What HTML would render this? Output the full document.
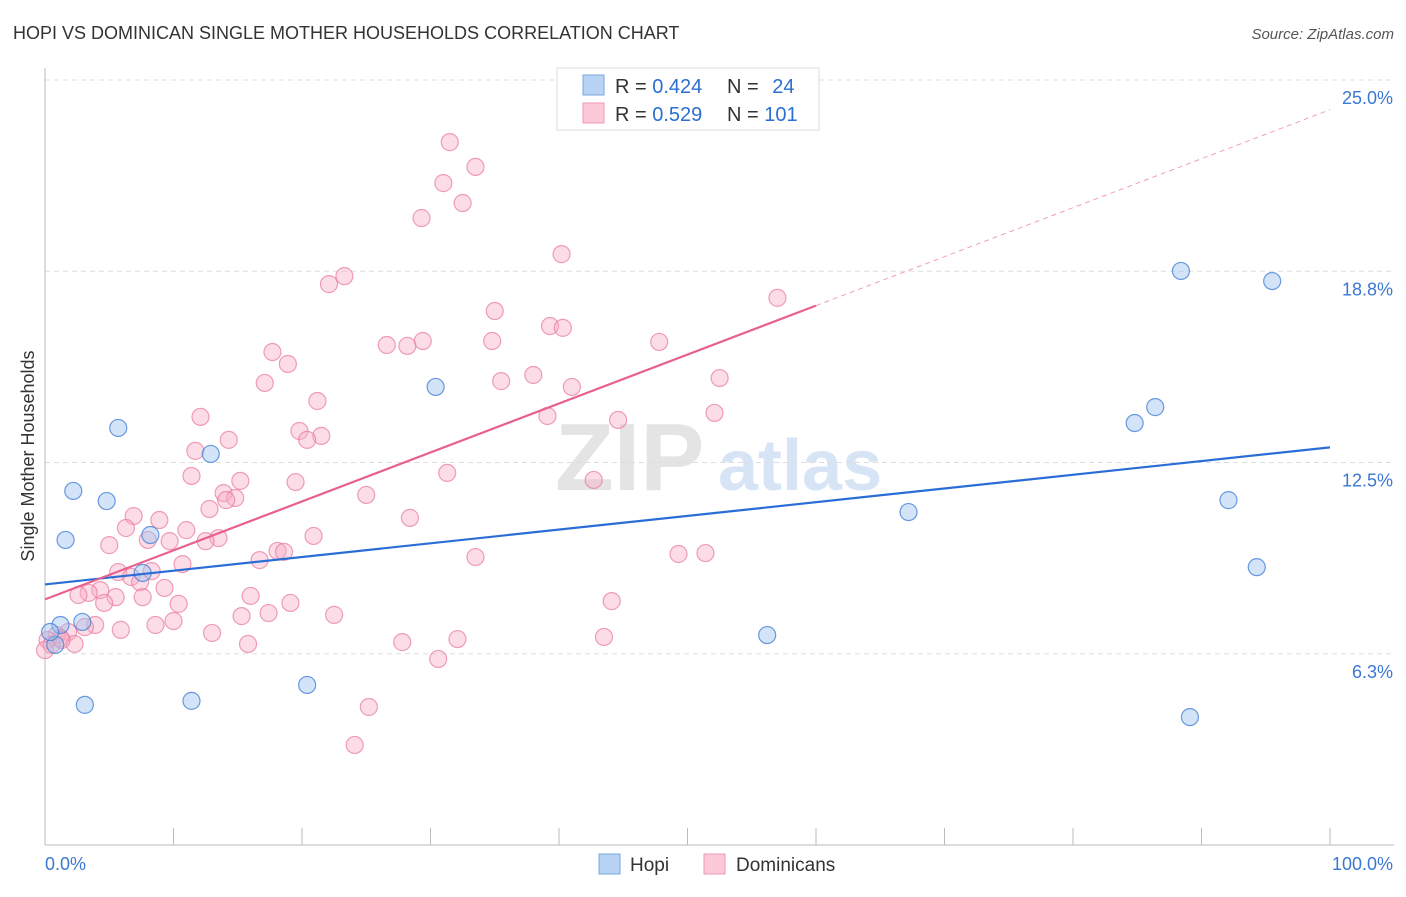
<!DOCTYPE html>
<html><head><meta charset="utf-8"><style>
body{margin:0;background:#fff;font-family:"Liberation Sans",sans-serif;}
svg text{font-family:"Liberation Sans",sans-serif;}
</style></head><body>
<svg id="chart" width="1406" height="892" viewBox="0 0 1406 892" xmlns="http://www.w3.org/2000/svg">
<text x="13" y="39" font-size="18" fill="#333">HOPI VS DOMINICAN SINGLE MOTHER HOUSEHOLDS CORRELATION CHART</text>
<text x="1394" y="39" font-size="15" fill="#555" text-anchor="end" font-style="italic">Source: ZipAtlas.com</text>
<text transform="translate(34,456) rotate(-90)" font-size="18" fill="#333" text-anchor="middle">Single Mother Households</text>
<g>
<text x="555" y="490" font-size="96" fill="#e4e4e4" font-family="Liberation Serif" font-weight="bold">ZIP</text>
<text x="718" y="490" font-size="72" fill="#d6e4f5" font-weight="bold">atlas</text>
</g>
<g id="grid"></g><g id="axes"></g><g id="pts"></g><g id="lines"></g>
<g>
<rect x="557" y="68" width="262" height="62" fill="#fff" stroke="#ddd"/>
<rect x="583" y="75" width="21" height="20" fill="#b8d3f3" stroke="#7aa7e0"/>
<rect x="583" y="103" width="21" height="20" fill="#fbc9d8" stroke="#ee9ab4"/>
<text x="615" y="93" font-size="20" fill="#333">R = <tspan fill="#2b6fd0">0.424</tspan></text>
<text x="727" y="93" font-size="20" fill="#333">N = <tspan fill="#2b6fd0" dx="8">24</tspan></text>
<text x="615" y="121" font-size="20" fill="#333">R = <tspan fill="#2b6fd0">0.529</tspan></text>
<text x="727" y="121" font-size="20" fill="#333">N = <tspan fill="#2b6fd0">101</tspan></text>
</g>
<g>
<rect x="599" y="854" width="21" height="20" fill="#b8d3f3" stroke="#7aa7e0"/>
<text x="630" y="871" font-size="19" fill="#333">Hopi</text>
<rect x="704" y="854" width="21" height="20" fill="#fbc9d8" stroke="#ee9ab4"/>
<text x="736" y="871" font-size="19" fill="#333">Dominicans</text>
</g>
</svg>
<script>
const hopiX=[0.8,1.2,2.9,3.1,1.6,2.2,4.8,5.7,8.2,7.6,11.4,12.9,20.4,30.4,56.2,67.2,84.8,86.4,88.4,89.1,92.1,94.3,95.5,0.4];
const hopiY=[6.54,7.19,7.29,4.58,9.97,11.57,11.24,13.63,10.13,8.89,4.71,12.78,5.23,14.97,6.86,10.88,13.79,14.31,18.76,4.18,11.27,9.08,18.43,6.96];
const domX=[31.5,33.5,31.0,32.5,29.3,40.2,23.3,22.1,57.0,35.0,39.3,40.3,34.8,29.4,26.6,28.2,47.8,17.7,18.9,38.0,35.5,52.5,17.1,41.0,21.2,12.1,39.1,44.6,52.1,19.8,21.5,20.4,14.3,11.7,11.4,31.3,42.7,15.2,19.5,13.9,14.8,14.1,25.0,12.8,6.9,8.9,28.4,6.3,11.0,13.5,12.5,9.7,20.9,8.0,5.0,18.1,18.6,16.7,33.5,49.3,51.4,10.7,5.7,8.3,6.7,7.4,9.3,4.3,3.4,2.6,5.5,7.6,16.0,4.6,10.4,19.1,44.1,15.3,17.4,22.5,10.0,8.6,3.9,3.1,5.9,1.8,13.0,0.9,43.5,27.8,32.1,15.8,2.3,1.2,0.2,30.6,25.2,24.1,0.5,1.3,0];
const domY=[22.97,22.16,21.63,20.98,20.49,19.31,18.59,18.33,17.88,17.45,16.96,16.90,16.47,16.47,16.34,16.31,16.44,16.11,15.72,15.36,15.16,15.26,15.10,14.97,14.51,13.99,14.02,13.89,14.12,13.53,13.37,13.24,13.24,12.88,12.06,12.16,11.93,11.90,11.86,11.50,11.34,11.27,11.44,10.98,10.75,10.62,10.69,10.36,10.29,10.03,9.93,9.93,10.10,9.97,9.80,9.61,9.58,9.31,9.41,9.51,9.54,9.18,8.92,8.95,8.76,8.59,8.40,8.33,8.24,8.17,8.10,8.10,8.14,7.91,7.88,7.91,7.97,7.48,7.58,7.52,7.32,7.19,7.19,7.12,7.03,6.96,6.93,6.86,6.80,6.63,6.73,6.57,6.57,6.76,6.70,6.08,4.51,3.27,6.54,6.70,6.37];
const yTicks=[6.25,12.5,18.75,25];
const yTickLabels=["6.3%","12.5%","18.8%","25.0%"];
const NS="http://www.w3.org/2000/svg";
const X0=45,X1=1330,Y0=845,PXY=30.6;
const sx=v=>X0+(X1-X0)*v/100;
const sy=v=>Y0-v*PXY;
function mk(tag,attrs,parent){const e=document.createElementNS(NS,tag);for(const k in attrs)e.setAttribute(k,attrs[k]);document.getElementById(parent).appendChild(e);return e;}
yTicks.forEach((t,i)=>{
 const g=mk('line',{x1:X0,x2:1394,y1:sy(t),y2:sy(t),stroke:'#ddd','stroke-dasharray':'5,4'},'grid');
 
 
 const tx=mk('text',{x:1393,y:sy(t)+24,'font-size':18,fill:'#3a78d4','text-anchor':'end'},'grid');
 tx.textContent=yTickLabels[i];
 
 
});
let a=mk('line',{x1:X0,x2:X0,y1:68,y2:Y0,stroke:'#bbb'},'axes');


a=mk('line',{x1:X0,x2:1394,y1:Y0,y2:Y0,stroke:'#bbb'},'axes');


for(let k=0;k<=10;k++){const t=mk('line',{x1:sx(k*10),x2:sx(k*10),y1:828,y2:Y0,stroke:'#bbb'},'axes');
 
 }
let l=mk('text',{x:45,y:870,'font-size':18,fill:'#3a78d4'},'axes');l.textContent='0.0%';


l=mk('text',{x:1393,y:870,'font-size':18,fill:'#3a78d4','text-anchor':'end'},'axes');l.textContent='100.0%';


domX.forEach((x,i)=>{const c=mk('circle',{cx:sx(x),cy:sy(domY[i]),r:8.5,fill:'rgba(247,170,195,0.4)',stroke:'rgba(232,120,155,0.7)','stroke-width':1.2},'pts');
 
 });
hopiX.forEach((x,i)=>{const c=mk('circle',{cx:sx(x),cy:sy(hopiY[i]),r:8.5,fill:'rgba(160,195,240,0.45)',stroke:'rgba(70,130,215,0.8)','stroke-width':1.2},'pts');
 
 });
function fit(xs,ys){const n=xs.length;let mx=0,my=0;xs.forEach((x,i)=>{mx+=x;my+=ys[i];});mx/=n;my/=n;let sxy=0,sxx=0;xs.forEach((x,i)=>{sxy+=(x-mx)*(ys[i]-my);sxx+=(x-mx)*(x-mx);});const b=sxy/sxx;return [my-b*mx,b];}
const [ha,hb]=fit(hopiX,hopiY);
let t=mk('line',{x1:sx(0),y1:sy(ha),x2:sx(100),y2:sy(ha+hb*100),stroke:'#2a6dd6','stroke-width':2.2},'lines');


const [da,db]=fit(domX,domY);
const xm=Math.max(...domX)+3;
t=mk('line',{x1:sx(0),y1:sy(da),x2:sx(xm),y2:sy(da+db*xm),stroke:'#e8608e','stroke-width':2.2},'lines');


t=mk('line',{x1:sx(xm),y1:sy(da+db*xm),x2:sx(100),y2:sy(da+db*100),stroke:'#eea0b8','stroke-width':1,'stroke-dasharray':'5,4'},'lines');


</script>
</body></html>
